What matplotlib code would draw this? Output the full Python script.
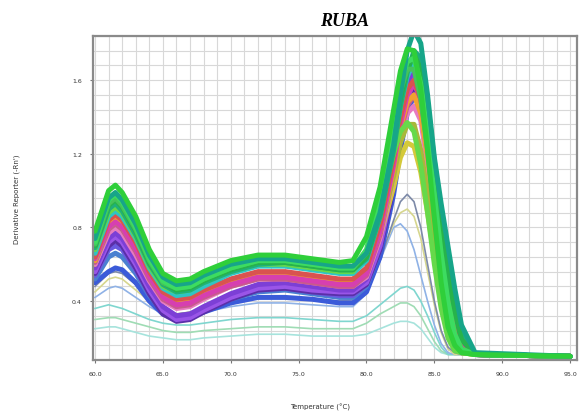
import numpy as np
import matplotlib
matplotlib.use('agg')
import matplotlib.pyplot as plt
from matplotlib.ticker import MultipleLocator, FormatStrFormatter

# melt temperatures (deg C) where the derivative was read
temps = [60, 61, 61.5, 62, 63, 64, 65, 66, 67, 68, 70, 72, 74, 76, 78, 79, 80,
         81, 82, 82.5, 83, 83.5, 84, 84.5, 85, 85.5, 86, 86.5, 87, 88, 95]

# main group of wells
g_top = [0.78, 1.00, 1.03, 0.99, 0.86, 0.68, 0.55, 0.51, 0.52, 0.56, 0.62, 0.65, 0.65, 0.63, 0.61, 0.62,
         0.75, 1.02, 1.44, 1.65, 1.77, 1.76, 1.55, 1.22, 0.85, 0.50, 0.26, 0.16, 0.12, 0.11, 0.10]
teal = [0.74, 0.96, 0.99, 0.95, 0.82, 0.65, 0.53, 0.49, 0.50, 0.54, 0.60, 0.63, 0.63, 0.61, 0.59, 0.59,
        0.66, 0.88, 1.25, 1.52, 1.76, 1.87, 1.80, 1.52, 1.18, 0.93, 0.70, 0.47, 0.27, 0.12, 0.10]
g_bright = [0.72, 0.95, 0.98, 0.94, 0.80, 0.63, 0.51, 0.47, 0.48, 0.52, 0.58, 0.62, 0.62, 0.60, 0.58, 0.58,
            0.68, 0.98, 1.38, 1.58, 1.70, 1.72, 1.58, 1.30, 0.98, 0.66, 0.40, 0.22, 0.14, 0.11, 0.10]
g_two = [0.71, 0.93, 0.96, 0.92, 0.79, 0.62, 0.50, 0.47, 0.48, 0.52, 0.58, 0.62, 0.62, 0.60, 0.58, 0.58,
         0.66, 0.95, 1.34, 1.54, 1.66, 1.66, 1.50, 1.22, 0.90, 0.60, 0.36, 0.20, 0.13, 0.11, 0.10]
g_mid = [0.70, 0.92, 0.95, 0.91, 0.78, 0.61, 0.50, 0.46, 0.47, 0.51, 0.57, 0.61, 0.61, 0.59, 0.57, 0.57,
         0.64, 0.90, 1.28, 1.50, 1.66, 1.74, 1.66, 1.40, 1.08, 0.80, 0.55, 0.34, 0.19, 0.11, 0.10]
sea = [0.69, 0.90, 0.93, 0.89, 0.76, 0.60, 0.49, 0.45, 0.46, 0.50, 0.56, 0.60, 0.61, 0.59, 0.57, 0.57,
       0.63, 0.86, 1.22, 1.46, 1.64, 1.76, 1.72, 1.48, 1.16, 0.88, 0.62, 0.40, 0.22, 0.11, 0.10]
lime = [0.68, 0.88, 0.91, 0.88, 0.75, 0.59, 0.48, 0.45, 0.46, 0.50, 0.56, 0.60, 0.60, 0.58, 0.56, 0.56,
        0.66, 0.92, 1.20, 1.32, 1.37, 1.32, 1.14, 0.88, 0.60, 0.36, 0.20, 0.13, 0.12, 0.11, 0.10]
cyan = [0.66, 0.86, 0.89, 0.86, 0.74, 0.58, 0.47, 0.43, 0.44, 0.48, 0.55, 0.59, 0.59, 0.57, 0.55, 0.55,
        0.62, 0.86, 1.24, 1.46, 1.62, 1.70, 1.64, 1.40, 1.10, 0.84, 0.60, 0.38, 0.21, 0.11, 0.10]
red = [0.64, 0.84, 0.87, 0.84, 0.72, 0.56, 0.45, 0.41, 0.42, 0.46, 0.52, 0.56, 0.56, 0.54, 0.52, 0.52,
       0.58, 0.82, 1.18, 1.40, 1.55, 1.60, 1.50, 1.24, 0.94, 0.66, 0.42, 0.24, 0.14, 0.11, 0.10]
magenta = [0.63, 0.80, 0.83, 0.80, 0.68, 0.53, 0.42, 0.38, 0.39, 0.43, 0.49, 0.53, 0.53, 0.51, 0.49, 0.49,
           0.55, 0.78, 1.14, 1.36, 1.52, 1.58, 1.50, 1.26, 0.98, 0.70, 0.46, 0.27, 0.15, 0.11, 0.10]
orange = [0.62, 0.82, 0.85, 0.82, 0.70, 0.55, 0.44, 0.40, 0.41, 0.45, 0.51, 0.55, 0.55, 0.53, 0.51, 0.51,
          0.56, 0.78, 1.12, 1.34, 1.48, 1.52, 1.42, 1.18, 0.90, 0.63, 0.40, 0.23, 0.14, 0.11, 0.10]
olive = [0.62, 0.80, 0.83, 0.80, 0.68, 0.53, 0.42, 0.39, 0.40, 0.44, 0.50, 0.54, 0.54, 0.52, 0.50, 0.50,
         0.56, 0.78, 1.08, 1.26, 1.36, 1.36, 1.22, 0.98, 0.72, 0.48, 0.28, 0.16, 0.12, 0.11, 0.10]
rose = [0.61, 0.79, 0.82, 0.79, 0.67, 0.52, 0.41, 0.37, 0.38, 0.42, 0.48, 0.52, 0.52, 0.50, 0.48, 0.48,
        0.54, 0.76, 1.10, 1.32, 1.46, 1.52, 1.44, 1.20, 0.92, 0.64, 0.42, 0.24, 0.14, 0.11, 0.10]
pink = [0.60, 0.77, 0.80, 0.77, 0.65, 0.51, 0.40, 0.36, 0.37, 0.41, 0.48, 0.52, 0.52, 0.50, 0.48, 0.48,
        0.53, 0.74, 1.08, 1.28, 1.42, 1.46, 1.38, 1.14, 0.86, 0.60, 0.38, 0.22, 0.14, 0.11, 0.10]
yellow = [0.60, 0.78, 0.81, 0.78, 0.66, 0.52, 0.41, 0.37, 0.38, 0.42, 0.49, 0.53, 0.53, 0.51, 0.49, 0.49,
          0.55, 0.75, 1.02, 1.18, 1.26, 1.24, 1.10, 0.88, 0.64, 0.42, 0.25, 0.15, 0.12, 0.11, 0.10]
purple = [0.58, 0.74, 0.77, 0.74, 0.62, 0.48, 0.37, 0.32, 0.33, 0.37, 0.44, 0.49, 0.50, 0.48, 0.46, 0.46,
          0.52, 0.74, 1.12, 1.38, 1.58, 1.68, 1.62, 1.38, 1.08, 0.80, 0.54, 0.32, 0.17, 0.11, 0.10]
violet = [0.56, 0.72, 0.75, 0.72, 0.60, 0.46, 0.35, 0.30, 0.31, 0.35, 0.42, 0.47, 0.48, 0.46, 0.45, 0.45,
          0.50, 0.70, 1.05, 1.30, 1.50, 1.60, 1.56, 1.34, 1.06, 0.78, 0.52, 0.31, 0.17, 0.11, 0.10]
d_purple = [0.55, 0.70, 0.73, 0.70, 0.58, 0.44, 0.33, 0.29, 0.30, 0.34, 0.41, 0.46, 0.47, 0.45, 0.44, 0.44,
            0.49, 0.68, 1.02, 1.26, 1.46, 1.56, 1.52, 1.32, 1.06, 0.80, 0.55, 0.33, 0.18, 0.11, 0.10]
indigo = [0.54, 0.68, 0.70, 0.68, 0.57, 0.44, 0.34, 0.30, 0.31, 0.35, 0.42, 0.46, 0.47, 0.45, 0.43, 0.43,
          0.49, 0.70, 1.06, 1.30, 1.50, 1.62, 1.58, 1.36, 1.08, 0.80, 0.54, 0.32, 0.17, 0.11, 0.10]
steel = [0.52, 0.64, 0.66, 0.64, 0.55, 0.43, 0.34, 0.31, 0.32, 0.35, 0.41, 0.45, 0.46, 0.44, 0.42, 0.42,
         0.48, 0.68, 1.04, 1.28, 1.48, 1.60, 1.56, 1.34, 1.06, 0.78, 0.53, 0.31, 0.17, 0.11, 0.10]
blue = [0.50, 0.56, 0.58, 0.57, 0.50, 0.40, 0.33, 0.30, 0.31, 0.34, 0.39, 0.42, 0.42, 0.41, 0.39, 0.39,
        0.45, 0.64, 0.98, 1.22, 1.42, 1.52, 1.48, 1.28, 1.02, 0.76, 0.52, 0.31, 0.17, 0.11, 0.10]

# weak wells
slate = [0.48, 0.55, 0.56, 0.55, 0.49, 0.42, 0.36, 0.33, 0.34, 0.36, 0.40, 0.42, 0.42, 0.41, 0.40, 0.40,
         0.46, 0.62, 0.84, 0.94, 0.98, 0.94, 0.80, 0.60, 0.40, 0.24, 0.15, 0.12, 0.11, 0.11, 0.10]
lt_blue = [0.42, 0.47, 0.48, 0.47, 0.42, 0.37, 0.33, 0.31, 0.32, 0.34, 0.37, 0.39, 0.39, 0.38, 0.37, 0.37,
           0.44, 0.62, 0.80, 0.82, 0.78, 0.68, 0.54, 0.40, 0.27, 0.17, 0.12, 0.11, 0.11, 0.11, 0.10]
pale_yel = [0.45, 0.52, 0.53, 0.52, 0.46, 0.40, 0.35, 0.33, 0.34, 0.36, 0.40, 0.42, 0.42, 0.41, 0.40, 0.41,
            0.48, 0.64, 0.82, 0.88, 0.90, 0.86, 0.74, 0.56, 0.38, 0.23, 0.14, 0.11, 0.11, 0.11, 0.10]
pale_cyan = [0.36, 0.38, 0.37, 0.36, 0.33, 0.30, 0.28, 0.27, 0.27, 0.28, 0.30, 0.31, 0.31, 0.30, 0.29, 0.29,
             0.32, 0.38, 0.44, 0.47, 0.48, 0.46, 0.40, 0.32, 0.23, 0.15, 0.11, 0.11, 0.11, 0.11, 0.10]
pale_grn = [0.30, 0.31, 0.31, 0.30, 0.28, 0.26, 0.24, 0.23, 0.23, 0.24, 0.25, 0.26, 0.26, 0.25, 0.25, 0.25,
            0.28, 0.33, 0.37, 0.39, 0.39, 0.37, 0.32, 0.25, 0.18, 0.13, 0.11, 0.11, 0.11, 0.11, 0.10]
pale_turq = [0.25, 0.26, 0.26, 0.25, 0.23, 0.21, 0.20, 0.19, 0.19, 0.20, 0.21, 0.22, 0.22, 0.21, 0.21, 0.21,
             0.22, 0.25, 0.28, 0.29, 0.29, 0.28, 0.25, 0.20, 0.15, 0.12, 0.11, 0.11, 0.11, 0.11, 0.10]

weak = [(pale_turq, '#a6e3dc'), (pale_grn, '#9fdcb4'), (pale_cyan, '#7fd6cf'),
        (lt_blue, '#8fb2e6'), (pale_yel, '#d6d68e'), (slate, '#7d8aa8')]
strong = [(blue, '#3b5bd9'), (steel, '#4a80d0'), (indigo, '#6a5ae0'), (d_purple, '#5a2fa8'),
          (violet, '#9a55e8'), (purple, '#7c3fd6'), (yellow, '#d4c93a'), (pink, '#e87bc0'),
          (rose, '#c85a8c'), (olive, '#a8b83a'), (orange, '#f0a030'), (magenta, '#d63fb0'),
          (red, '#d9534f'), (cyan, '#2fc4c4'), (lime, '#66d94a'), (sea, '#1fb07a'),
          (g_mid, '#27b34a'), (g_two, '#45c35a'), (g_bright, '#3ddc60'), (teal, '#17a589'),
          (g_top, '#2fcf3a')]

fig = plt.figure(figsize=(5.83, 4.14), dpi=100)
ax = fig.add_axes([0.1595, 0.128, 0.830, 0.7826])

for vals, col in weak:
    ax.plot(temps, vals, color=col, lw=1.2, solid_joinstyle='round')
for vals, col in strong:
    ax.plot(temps, vals, color=col, lw=3.6, solid_joinstyle='round', solid_capstyle='round')

ax.set_xlim(59.85, 95.5)
ax.set_ylim(0.08, 1.84)
ax.xaxis.set_major_locator(MultipleLocator(5))
ax.xaxis.set_minor_locator(MultipleLocator(1))
ax.yaxis.set_major_locator(MultipleLocator(0.4))
ax.yaxis.set_minor_locator(MultipleLocator(0.08))
ax.xaxis.set_major_formatter(FormatStrFormatter('%.1f'))
ax.yaxis.set_major_formatter(FormatStrFormatter('%.1f'))
ax.grid(which='both', color='#d8d8d8', lw=0.8)
ax.set_axisbelow(True)
ax.tick_params(which='major', labelsize=4.5, length=2, color='#777777', labelcolor='#333333', pad=6)
ax.tick_params(which='minor', length=0)
for s in ax.spines.values():
    s.set_color('#8a8a8a')
    s.set_linewidth(1.6)

ax.set_xlabel(u'Temperature (\u00b0C)', fontsize=5, color='#333333')
ax.set_ylabel("Derivative Reporter (-Rn')", fontsize=5, color='#333333')
ax.xaxis.set_label_coords(0.469, -0.132)
ax.yaxis.set_label_coords(-0.151, 0.5)

fig.text(345 / 583, 1 - 22 / 414, 'RUBA', ha='center', va='center', fontsize=13,
         fontweight='bold', fontstyle='italic', family='Liberation Serif')

fig.savefig('out.png', dpi=100)
